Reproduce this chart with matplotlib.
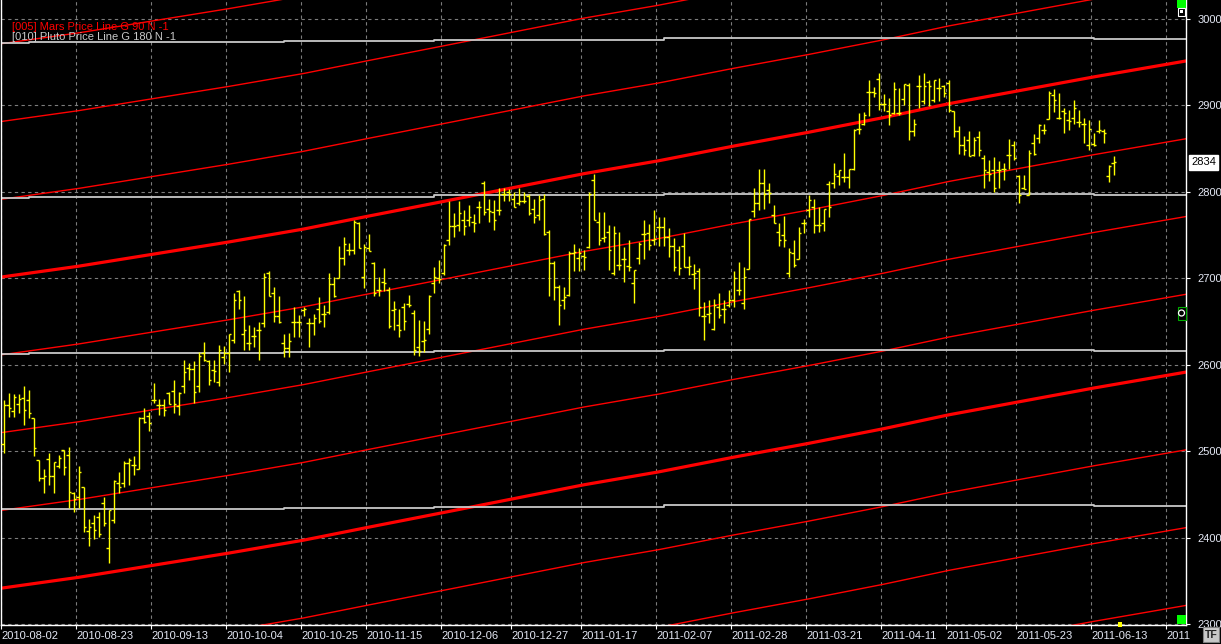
# Mars / Pluto price lines over daily OHLC bars
import matplotlib
matplotlib.use('Agg')
import matplotlib.pyplot as plt
import numpy as np
from matplotlib.patches import Rectangle, Ellipse

plt.rcParams['font.family'] = ['Liberation Sans', 'DejaVu Sans']

# daily bars, 2010-08-02 .. 2011-06-15
opens = [2508, 2553, 2546, 2555, 2561, 2559, 2538, 2490, 2469, 2491,
         2471, 2483, 2501, 2496, 2452, 2447, 2459, 2407, 2417, 2424,
         2440, 2388, 2420, 2463, 2463, 2486, 2484, 2479, 2538, 2541,
         2559, 2553, 2553, 2567, 2569, 2552, 2575, 2596, 2595, 2575,
         2614, 2604, 2594, 2580, 2609, 2613, 2629, 2685, 2636, 2625,
         2633, 2640, 2648, 2706, 2683, 2656, 2625, 2619, 2649, 2649,
         2663, 2648, 2648, 2664, 2659, 2661, 2693, 2700, 2724, 2733,
         2733, 2764, 2701, 2735, 2718, 2687, 2696, 2686, 2663, 2646,
         2667, 2670, 2660, 2621, 2627, 2641, 2694, 2700, 2706, 2744,
         2760, 2762, 2767, 2767, 2765, 2783, 2810, 2780, 2777, 2779,
         2798, 2800, 2792, 2787, 2789, 2795, 2780, 2773, 2792, 2754,
         2718, 2690, 2675, 2681, 2729, 2723, 2726, 2736, 2814, 2765,
         2747, 2754, 2706, 2715, 2722, 2714, 2694, 2724, 2751, 2752,
         2744, 2759, 2759, 2748, 2737, 2733, 2737, 2713, 2705, 2708,
         2656, 2659, 2641, 2667, 2665, 2669, 2675, 2686, 2671, 2711,
         2778, 2787, 2810, 2802, 2773, 2753, 2750, 2706, 2729, 2722,
         2764, 2779, 2783, 2762, 2764, 2809, 2810, 2818, 2817, 2817,
         2827, 2873, 2879, 2916, 2915, 2931, 2902, 2893, 2891, 2891,
         2908, 2924, 2870, 2922, 2905, 2927, 2906, 2920, 2922, 2926,
         2893, 2870, 2854, 2860, 2843, 2863, 2839, 2823, 2825, 2825,
         2827, 2843, 2854, 2818, 2804, 2796, 2856, 2862, 2872, 2884,
         2912, 2886, 2893, 2883, 2885, 2881, 2879, 2854, 2855, 2870,
         2870, 2818, 2833]
highs = [2559, 2567, 2566, 2566, 2575, 2571, 2538, 2490, 2479, 2498,
         2487, 2496, 2501, 2505, 2453, 2483, 2459, 2422, 2426, 2429,
         2447, 2432, 2467, 2476, 2488, 2492, 2494, 2539, 2550, 2545,
         2579, 2560, 2560, 2568, 2582, 2568, 2605, 2602, 2604, 2615,
         2626, 2605, 2605, 2623, 2622, 2636, 2683, 2687, 2679, 2646,
         2644, 2649, 2706, 2708, 2690, 2679, 2636, 2637, 2667, 2657,
         2667, 2654, 2659, 2678, 2669, 2706, 2702, 2737, 2748, 2741,
         2767, 2765, 2740, 2751, 2719, 2702, 2712, 2690, 2674, 2665,
         2671, 2681, 2663, 2652, 2650, 2681, 2713, 2721, 2740, 2789,
         2775, 2789, 2779, 2785, 2774, 2789, 2813, 2792, 2791, 2805,
         2805, 2803, 2800, 2804, 2800, 2798, 2792, 2796, 2798, 2756,
         2720, 2692, 2690, 2731, 2740, 2735, 2733, 2800, 2821, 2777,
         2777, 2762, 2760, 2753, 2736, 2744, 2710, 2742, 2767, 2763,
         2779, 2771, 2771, 2758, 2747, 2737, 2752, 2726, 2717, 2712,
         2673, 2675, 2676, 2683, 2675, 2686, 2708, 2719, 2713, 2769,
         2804, 2826, 2826, 2810, 2785, 2764, 2772, 2735, 2744, 2759,
         2769, 2796, 2792, 2783, 2780, 2813, 2833, 2825, 2845, 2827,
         2873, 2891, 2892, 2929, 2921, 2937, 2913, 2909, 2927, 2920,
         2925, 2926, 2884, 2935, 2937, 2929, 2930, 2932, 2924, 2929,
         2894, 2876, 2865, 2870, 2863, 2870, 2843, 2837, 2840, 2836,
         2833, 2861, 2859, 2819, 2819, 2848, 2867, 2878, 2878, 2917,
         2919, 2914, 2897, 2895, 2906, 2895, 2885, 2883, 2868, 2883,
         2873, 2831, 2841]
lows = [2498, 2540, 2540, 2544, 2530, 2538, 2494, 2465, 2451, 2461,
        2451, 2480, 2472, 2434, 2429, 2434, 2406, 2390, 2398, 2401,
        2413, 2371, 2417, 2451, 2459, 2461, 2472, 2479, 2532, 2523,
        2556, 2542, 2541, 2555, 2544, 2542, 2567, 2582, 2556, 2568,
        2604, 2577, 2580, 2575, 2601, 2591, 2625, 2665, 2617, 2617,
        2621, 2605, 2644, 2679, 2649, 2648, 2609, 2609, 2632, 2632,
        2656, 2621, 2634, 2648, 2644, 2659, 2678, 2700, 2715, 2727,
        2728, 2735, 2689, 2731, 2679, 2679, 2685, 2642, 2640, 2632,
        2640, 2667, 2611, 2610, 2615, 2636, 2683, 2694, 2704, 2738,
        2748, 2755, 2750, 2760, 2753, 2764, 2773, 2765, 2756, 2773,
        2789, 2789, 2783, 2785, 2787, 2773, 2764, 2767, 2750, 2679,
        2675, 2646, 2665, 2679, 2708, 2708, 2709, 2735, 2767, 2738,
        2742, 2710, 2704, 2710, 2696, 2708, 2671, 2717, 2722, 2733,
        2738, 2737, 2737, 2725, 2708, 2704, 2713, 2704, 2688, 2656,
        2629, 2648, 2640, 2654, 2648, 2667, 2667, 2681, 2665, 2711,
        2771, 2779, 2780, 2787, 2764, 2737, 2736, 2702, 2713, 2722,
        2752, 2771, 2752, 2754, 2755, 2771, 2804, 2808, 2811, 2805,
        2825, 2867, 2877, 2888, 2910, 2895, 2893, 2877, 2890, 2889,
        2900, 2860, 2865, 2897, 2902, 2899, 2904, 2905, 2910, 2892,
        2863, 2844, 2843, 2841, 2841, 2841, 2804, 2812, 2800, 2804,
        2814, 2827, 2837, 2787, 2803, 2796, 2843, 2857, 2867, 2884,
        2892, 2884, 2868, 2872, 2879, 2875, 2857, 2848, 2853, 2868,
        2856, 2811, 2819]
closes = [2553, 2550, 2563, 2560, 2548, 2544, 2504, 2469, 2471, 2471,
          2487, 2492, 2482, 2453, 2445, 2476, 2412, 2412, 2409, 2404,
          2417, 2432, 2465, 2459, 2486, 2490, 2484, 2538, 2534, 2532,
          2559, 2553, 2548, 2555, 2555, 2567, 2592, 2595, 2568, 2610,
          2605, 2582, 2593, 2617, 2614, 2636, 2675, 2675, 2640, 2625,
          2633, 2640, 2701, 2679, 2656, 2649, 2619, 2627, 2649, 2649,
          2664, 2648, 2654, 2650, 2659, 2693, 2679, 2723, 2740, 2733,
          2765, 2735, 2736, 2732, 2683, 2686, 2695, 2645, 2664, 2640,
          2651, 2669, 2617, 2616, 2629, 2679, 2701, 2699, 2738, 2760,
          2760, 2775, 2760, 2771, 2764, 2783, 2777, 2778, 2767, 2779,
          2798, 2798, 2783, 2789, 2789, 2775, 2771, 2791, 2751, 2718,
          2690, 2669, 2678, 2729, 2730, 2729, 2725, 2798, 2767, 2744,
          2748, 2733, 2752, 2715, 2722, 2713, 2710, 2740, 2751, 2738,
          2745, 2759, 2748, 2737, 2713, 2712, 2713, 2714, 2706, 2667,
          2656, 2660, 2669, 2657, 2665, 2675, 2700, 2686, 2702, 2769,
          2787, 2810, 2798, 2799, 2764, 2744, 2744, 2730, 2715, 2752,
          2764, 2791, 2762, 2762, 2780, 2783, 2821, 2825, 2817, 2826,
          2872, 2873, 2889, 2915, 2914, 2902, 2902, 2889, 2919, 2891,
          2925, 2870, 2878, 2922, 2922, 2922, 2929, 2920, 2914, 2895,
          2870, 2854, 2848, 2842, 2860, 2849, 2825, 2821, 2804, 2825,
          2827, 2843, 2839, 2796, 2803, 2845, 2844, 2877, 2872, 2914,
          2906, 2885, 2891, 2882, 2897, 2881, 2879, 2873, 2854, 2871,
          2868, 2830, 2834]
last_price = 2834

# date axis (bar index of each label)
tick_idx = [0, 15, 30, 45, 60, 73, 88, 102, 116, 131, 146, 161, 176, 189, 203, 218, 233]
tick_labels = ['2010-08-02', '2010-08-23', '2010-09-13', '2010-10-04', '2010-10-25',
               '2010-11-15', '2010-12-06', '2010-12-27', '2011-01-17', '2011-02-07',
               '2011-02-28', '2011-03-21', '2011-04-11', '2011-05-02', '2011-05-23',
               '2011-06-13', '2011']
price_ticks = [2300, 2400, 2500, 2600, 2700, 2800, 2900, 3000]

# Mars price line (base harmonic), step 90, heavy every 360
mars_x = [-1, 15, 30, 45, 60, 73, 88, 102, 116, 131, 146, 161, 176, 189, 203, 218, 233, 238]
mars_base = [2701, 2714, 2728, 2742, 2757, 2772, 2789, 2805, 2821, 2836,
             2853, 2869, 2886, 2902, 2917, 2933, 2948, 2953]
mars_step = 90
mars_n = range(-7, 4)

# Pluto price line, step 180
pluto_x = [-1, 5, 56, 86, 132, 218, 238]
pluto_base = [2792.6, 2793.5, 2794.4, 2795.8, 2797.5, 2796.4, 2796.4]
pluto_step = 180
pluto_n = range(-2, 2)

W, H = 1221, 644
fig = plt.figure(figsize=(W / 100, H / 100), dpi=100)
fig.patch.set_facecolor('black')
ax = fig.add_axes([1 / W, (H - 625) / H, 1185 / W, 625 / H])
ax.set_facecolor('black')
ax.set_xlim(-0.55, 236.45)
ax.set_ylim(2298.8, 3022)

# dashed grid
grid_kw = dict(color='#7c7c7c', lw=0.8, ls=(0, (3, 3)), zorder=1)
for t in tick_idx:
    ax.axvline(t - 0.5, **grid_kw)
for p in price_ticks:
    ax.axhline(p, **grid_kw)

# price lines
mb = np.array(mars_base)
for k in mars_n:
    heavy = (k % 4 == 0)
    ax.plot(mars_x, mb + k * mars_step, color='#FF0000',
            lw=2.3 if heavy else 1.0, zorder=2)
pb = np.array(pluto_base)
for k in pluto_n:
    ax.step(pluto_x, pb + k * pluto_step, where='post', color='#C8C8C8', lw=1.3, zorder=2)

# OHLC bars
x = np.arange(len(opens))
bar_kw = dict(colors='#FFFF00', lw=1.0, zorder=4)
ax.vlines(x, lows, highs, **bar_kw)
ax.hlines(opens, x - 0.5, x, **bar_kw)
ax.hlines(closes, x, x + 0.5, **bar_kw)

# axes look
for s in ['left', 'right', 'bottom']:
    ax.spines[s].set_color('white')
    ax.spines[s].set_linewidth(1.0)
ax.spines['top'].set_visible(False)

lab_col = '#E4E8F4'
ax.set_xticks([t - 0.5 for t in tick_idx])
ax.set_xticklabels(tick_labels, ha='left')
ax.tick_params(axis='x', colors='white', labelcolor=lab_col, length=3, pad=1.5, labelsize=8)
ax.yaxis.tick_right()
ax.set_yticks(price_ticks)
ax.set_yticklabels([str(p) for p in price_ticks])
ax.tick_params(axis='y', colors='white', labelcolor=lab_col, length=3, pad=5, labelsize=8)

# legend text
ax.text(11 / 1185, 1 - 27 / 625, '[005] Mars Price Line G 90 N -1', transform=ax.transAxes,
        color='#FF0000', fontsize=8, va='center', ha='left', zorder=6)
ax.text(11 / 1185, 1 - 37.5 / 625, '[010] Pluto Price Line G 180 N -1', transform=ax.transAxes,
        color='#C8C8C8', fontsize=8, va='center', ha='left', zorder=6)

# last price tag
ax.annotate(str(last_price), xy=(1, last_price), xycoords=('axes fraction', 'data'),
            xytext=(5, 0), textcoords='offset pixels', ha='left', va='center',
            fontsize=8, color='black', annotation_clip=False,
            bbox=dict(boxstyle='square,pad=0.2', fc='white', ec='white'))


def px_rect(x0, y0, x1, y1, **kw):
    fig.add_artist(Rectangle((x0 / W, 1 - y1 / H), (x1 - x0) / W, (y1 - y0) / H,
                             transform=fig.transFigure, **kw))


# small terminal widgets
px_rect(1177, 0, 1186, 8, fc='#00FF00', ec='none')
px_rect(1178, 8.5, 1185, 15.5, fc='black', ec='white', lw=0.8)
px_rect(1180, 10.5, 1183, 13, fc='white', ec='none')
px_rect(1177.5, 307, 1185.5, 319.5, fc='black', ec='#00B000', lw=0.8)
fig.add_artist(Ellipse((1181.5 / W, 1 - 313 / H), 6 / W, 6 / H, transform=fig.transFigure,
                       fc='none', ec='white', lw=0.9))
px_rect(1177, 615, 1186, 624, fc='#00FF00', ec='none')
px_rect(1118, 622, 1122, 627, fc='#FFFF00', ec='none')
px_rect(1203, 627, 1219, 642, fc='#C8C8C8', ec='#808080', lw=0.8)
fig.text(1211 / W, 1 - 634.5 / H, 'TF', ha='center', va='center', fontsize=7.5,
         color='#202020', fontweight='bold')

fig.savefig('out.png', dpi=100, facecolor='black')
